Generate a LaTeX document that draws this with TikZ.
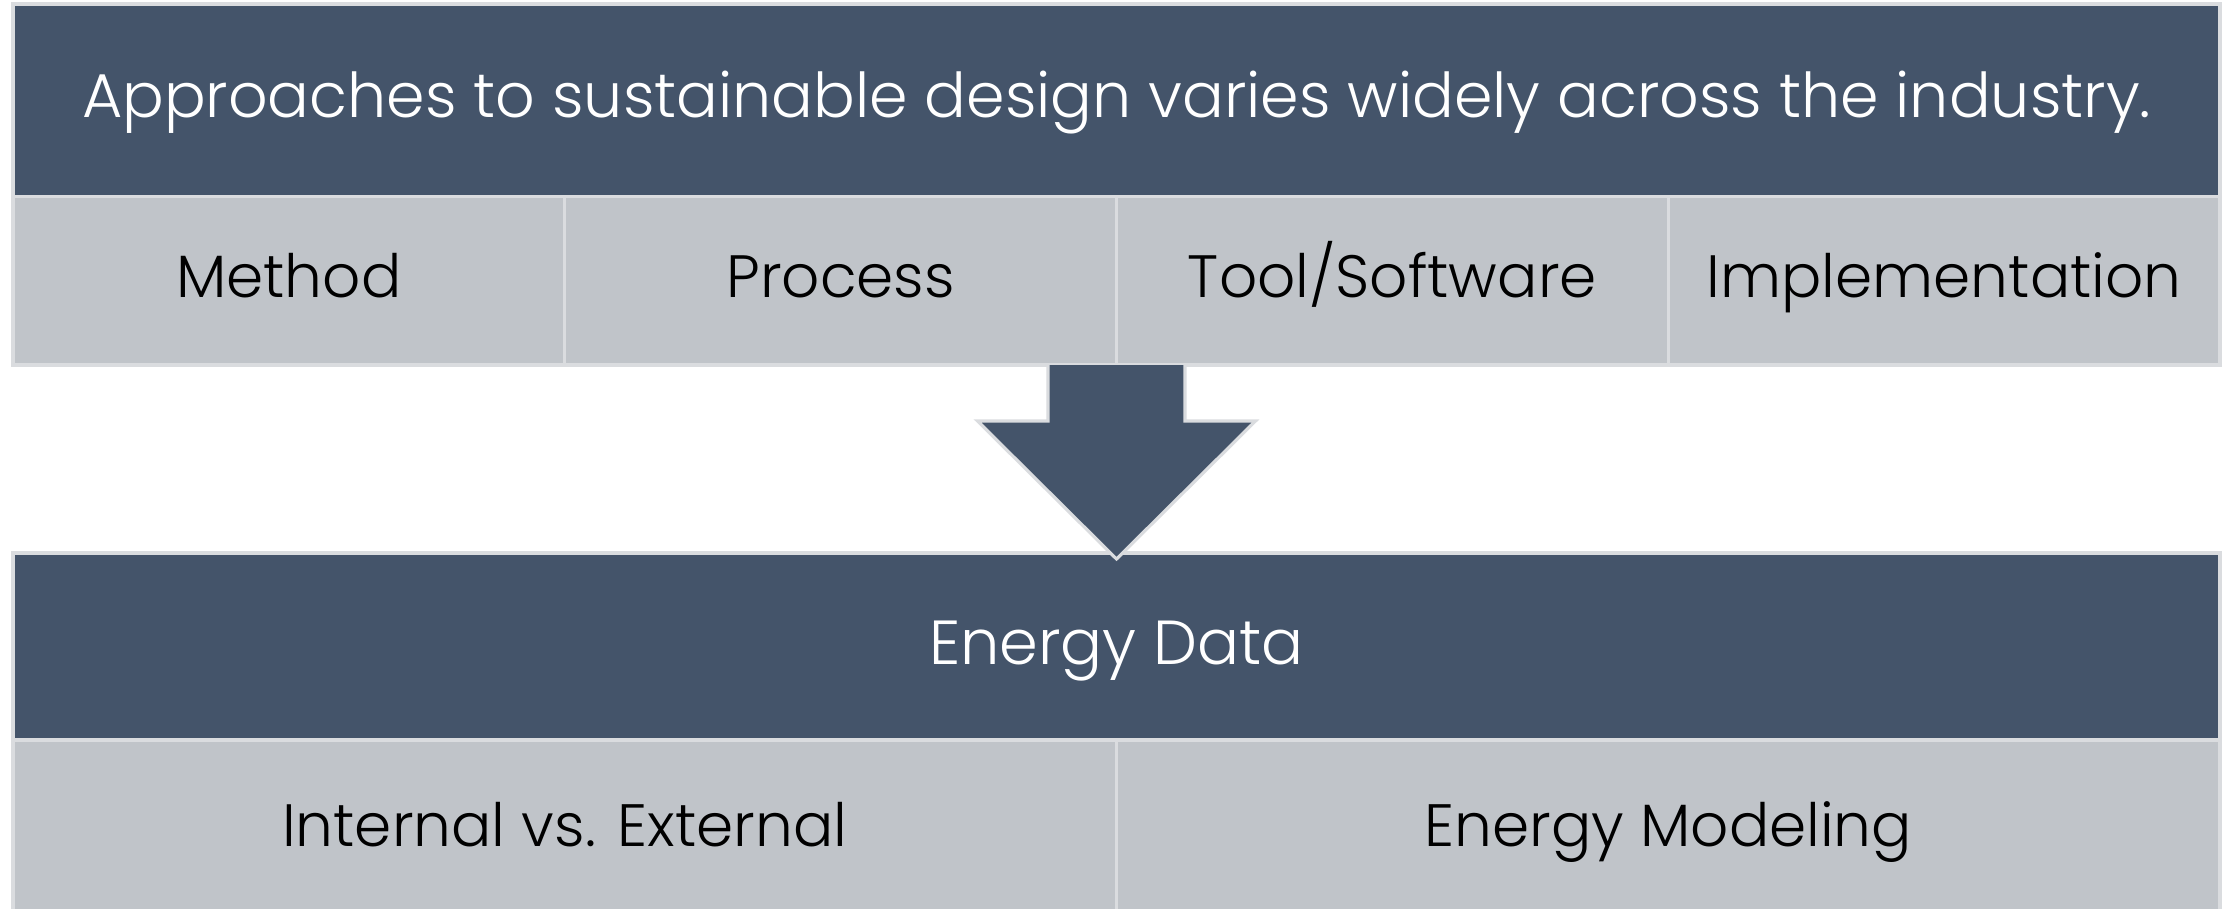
\documentclass[tikz,border=0pt]{standalone}
\usepackage{fontspec}
\setmainfont{Poppins}[UprightFont=* Light]
\usetikzlibrary{positioning}
\definecolor{slate}{RGB}{68,84,106}
\definecolor{mist}{RGB}{192,196,201}
\definecolor{rim}{RGB}{218,220,223}

\begin{document}
\begin{tikzpicture}[
    band/.style={fill=slate, draw=rim, line width=0.9pt, text=white,
      inner sep=0pt, outer sep=0pt, minimum width=22.07cm,
      text height=1em, text depth=0pt},
    cell/.style={fill=mist, draw=rim, line width=0.9pt, text=black,
      inner sep=0pt, outer sep=0pt, text height=0.96em, text depth=0pt,
      font=\fontsize{17}{21}\selectfont},
    bigarrow/.style={fill=slate, draw=rim, line width=0.9pt, line join=miter}
  ]
  \useasboundingbox (0,0) rectangle (22.33,9.08);

  % upper block
  \node[band, minimum height=1.925cm, font=\fontsize{17.6}{21}\selectfont]
    (title) at (11.165,8.0775) {Approaches to sustainable design varies widely across the industry.};
  \node[cell, minimum width=5.5175cm, minimum height=1.685cm, anchor=north west]
    (method) at (title.south west) {Method};
  \node[cell, minimum width=5.5175cm, minimum height=1.685cm, right=0pt of method] (process) {Process};
  \node[cell, minimum width=5.5175cm, minimum height=1.685cm, right=0pt of process] (tool) {Tool/Software};
  \node[cell, minimum width=5.5175cm, minimum height=1.685cm, right=0pt of tool] (impl) {Implementation};

  % lower block
  \node[band, minimum height=1.87cm, font=\fontsize{17.7}{21}\selectfont]
    (data) at (11.165,2.615) {Energy Data};
  \node[cell, minimum width=11.035cm, minimum height=1.8cm, anchor=north west]
    (internal) at (data.south west) {Internal vs. External};
  \node[cell, minimum width=11.035cm, minimum height=1.8cm, right=0pt of internal] (modeling) {Energy Modeling};

  % block arrow between the two
  \coordinate (neck) at ([yshift=-5.6mm]process.south east);
  \coordinate (tip) at ([yshift=-0.6mm]data.north);
  \draw[bigarrow] ([xshift=-6.85mm]process.south east) -- ([xshift=-6.85mm]neck)
    -- ([xshift=-13.9mm]neck) -- (tip) -- ([xshift=13.9mm]neck)
    -- ([xshift=6.85mm]neck) -- ([xshift=6.85mm]process.south east);
\end{tikzpicture}
\end{document}
